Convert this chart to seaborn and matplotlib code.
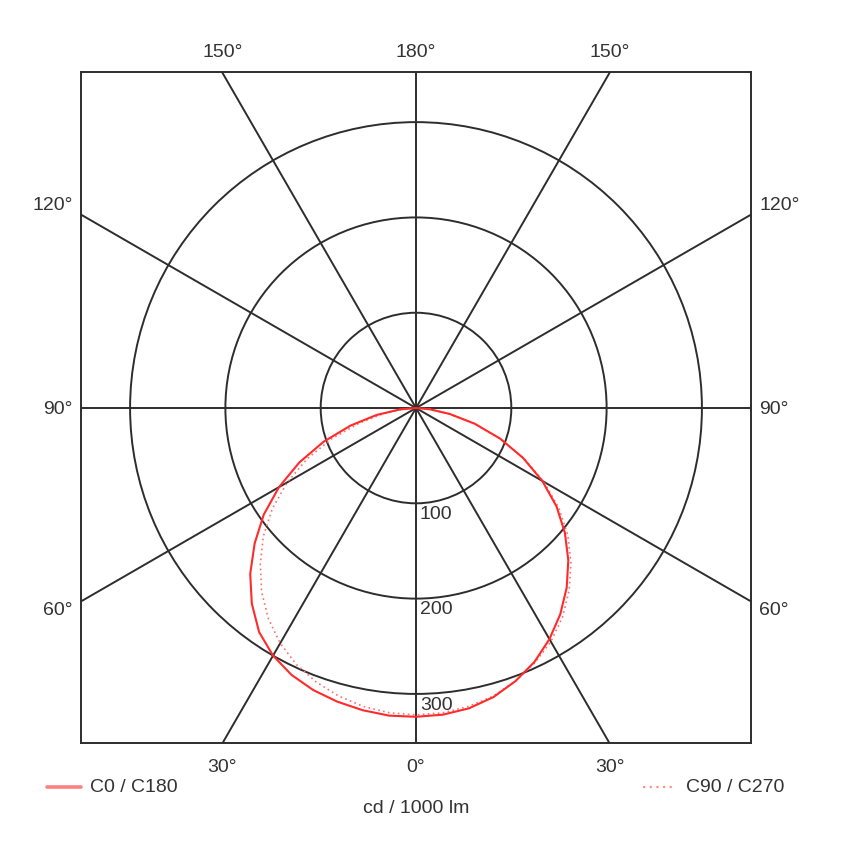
import numpy as np
import pandas as pd
import matplotlib.pyplot as plt
import seaborn as sns
from matplotlib.patches import Circle

# gamma angles (deg, 0 = straight down) and intensities in cd / 1000 lm
gamma = np.arange(0, 95, 5)
c0 = [324, 323, 320, 314, 305, 294, 280, 264, 246, 226, 204, 180, 153, 124, 94, 64, 36, 14, 0]
c180 = [324, 324, 322, 319, 315, 309, 300, 287, 268, 246, 221, 195, 166, 135, 103, 71, 42, 17, 0]
c90 = [322, 321, 318, 313, 305, 295, 283, 268, 250, 230, 208, 183, 155, 125, 94, 63, 36, 15, 0]
c270 = [322, 321, 318, 313, 306, 297, 285, 270, 252, 231, 209, 184, 156, 126, 94, 62, 35, 14, 0]

rings = [100, 200, 300]
spokes = np.arange(0, 360, 30)
top_labels = ["150°", "180°", "150°"]
side_labels = ["120°", "90°", "60°"]
bottom_labels = ["30°", "0°", "30°"]
series_names = ["C0 / C180", "C90 / C270"]
unit_label = "cd / 1000 lm"

sns.set_style("white")
plt.rcParams["font.family"] = ["Liberation Sans", "DejaVu Sans"]
txt = "#333333"
grid = "#2d2d2d"
fs = 14

fig = plt.figure(figsize=(8.48, 8.50), dpi=100)
ax = fig.add_axes([81 / 848, 1 - 743 / 850, 670 / 848, 671 / 850])
R = 351.5
ax.set_xlim(-R, R)
ax.set_ylim(-R, 352.6)
ax.set_xticks([])
ax.set_yticks([])
for s in ax.spines.values():
    s.set_color(grid)
    s.set_linewidth(1.4)
    s.set_visible(True)

# grid: rings and spokes
for r in rings:
    ax.add_patch(Circle((0, 0), r, fill=False, ec=grid, lw=1.4, zorder=1))
    ax.text(4, -r - 3, str(r), ha="left", va="top", fontsize=fs, color=txt)
for a in spokes:
    t = np.radians(a)
    ax.plot([0, 700 * np.sin(t)], [0, -700 * np.cos(t)], color=grid, lw=1.4, zorder=1)


def curve(left, right):
    g = np.radians(np.concatenate([-gamma[::-1], gamma]))
    i = np.concatenate([np.array(left)[::-1], np.array(right)])
    return pd.DataFrame({"x": i * np.sin(g), "y": -i * np.cos(g)})


d1 = curve(c180, c0)
d2 = curve(c270, c90)
sns.lineplot(data=d2, x="x", y="y", sort=False, estimator=None, color="#ff7070",
             lw=1.2, linestyle=(0, (1, 2)), ax=ax, zorder=3)
sns.lineplot(data=d1, x="x", y="y", sort=False, estimator=None, color="#ff2a2a",
             lw=1.5, ax=ax, zorder=4)
ax.set_xlabel("")
ax.set_ylabel("")

# angle labels
tx = 352 * np.tan(np.radians(30))
for lab, x in zip(top_labels, [-tx, 0, tx]):
    ax.text(x, 373, lab, ha="center", va="center", fontsize=fs, color=txt, clip_on=False)
for lab, x in zip(bottom_labels, [-tx, 0, tx]):
    ax.text(x, -377, lab, ha="center", va="center", fontsize=fs, color=txt, clip_on=False)
for lab, y in zip(side_labels, [213, -2, -212]):
    ax.text(-360, y, lab, ha="right", va="center", fontsize=fs, color=txt, clip_on=False)
    ax.text(360, y, lab, ha="left", va="center", fontsize=fs, color=txt, clip_on=False)

# legend and unit
ax.plot([-387, -352], [-398, -398], color="#ff8080", lw=2.6, clip_on=False)
ax.text(-342, -398, series_names[0], ha="left", va="center", fontsize=fs, color=txt, clip_on=False)
ax.plot([238, 269], [-398, -398], color="#ff9090", lw=1.6, linestyle=(0, (1, 2)), clip_on=False)
ax.text(283, -398, series_names[1], ha="left", va="center", fontsize=fs, color=txt, clip_on=False)
ax.text(0, -420, unit_label, ha="center", va="center", fontsize=fs, color=txt, clip_on=False)

fig.savefig("out.png", dpi=100, facecolor="white")
